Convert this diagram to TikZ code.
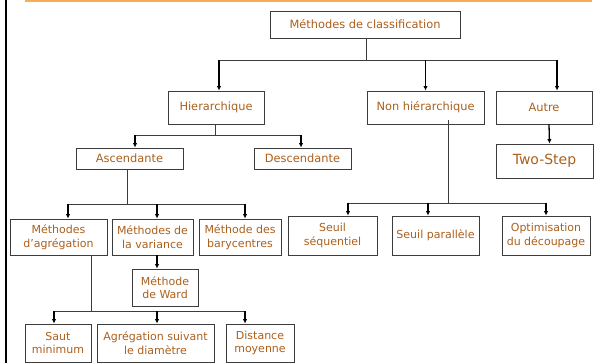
\documentclass[tikz,border=0pt]{standalone}
\usepackage{fontspec}
\setmainfont{DejaVu Sans}
\usetikzlibrary{arrows.meta}
\definecolor{txt}{RGB}{172,96,28}
\definecolor{orangebar}{RGB}{248,172,88}
\definecolor{boxline}{RGB}{60,60,60}
\begin{document}
\begin{tikzpicture}[x=1pt,y=-1pt,
  bx/.style={draw=boxline,line width=0.9pt,fill=white,inner sep=0pt,align=center,
    text=txt,font=\fontsize{11}{13.5}\selectfont},
  big/.style={font=\fontsize{11.4}{13.5}\selectfont},
  arr/.style={line width=1.3pt,-{Latex[length=4.5pt,width=4.5pt]}},
  ln/.style={line width=0.9pt,draw=boxline}]
\useasboundingbox (0,0) rectangle (594,363);
\draw[line width=2pt] (5.5,0) -- (5.5,363);
\draw[orangebar,line width=3pt] (25,1) -- (592,1);

\node[bx,big,minimum width=190pt,minimum height=27pt] (root) at (365,24.5) {Méthodes de classification};
\node[bx,big,minimum width=96pt,minimum height=33pt] (hier) at (216,107.5) {Hierarchique};
\node[bx,big,minimum width=117pt,minimum height=33pt] (nonh) at (425.5,107.5) {Non hiérarchique};
\node[bx,big,minimum width=96pt,minimum height=33pt] (autre) at (544,107.5) {Autre};
\node[bx,minimum width=97pt,minimum height=34pt,font=\fontsize{14}{16}\selectfont] (two) at (544.5,161) {Two-Step};
\node[bx,big,minimum width=107pt,minimum height=21pt] (asc) at (129.5,158.5) {Ascendante};
\node[bx,big,minimum width=97pt,minimum height=21pt] (desc) at (302.5,158.5) {Descendante};
\node[bx,minimum width=97pt,minimum height=36pt] (agr) at (58.5,237) {Méthodes\\d’agrégation};
\node[bx,minimum width=81pt,minimum height=36pt] (var) at (152.5,237) {Méthodes de\\la variance};
\node[bx,minimum width=82pt,minimum height=36pt] (bary) at (240,237) {Méthode des\\barycentres};
\node[bx,minimum width=66pt,minimum height=37pt] (ward) at (165,287.5) {Méthode\\de Ward};
\node[bx,minimum width=66pt,minimum height=38pt] (saut) at (58,343) {Saut\\minimum};
\node[bx,minimum width=117pt,minimum height=38pt] (diam) at (155.5,343) {Agrégation suivant\\le diamètre};
\node[bx,minimum width=68pt,minimum height=38pt] (dist) at (260,343) {Distance\\moyenne};
\node[bx,minimum width=89pt,minimum height=39pt] (seq) at (332.5,235.5) {Seuil\\séquentiel};
\node[bx,minimum width=87pt,minimum height=39pt] (par) at (435.5,235.5) {Seuil parallèle};
\node[bx,minimum width=88pt,minimum height=39pt] (opt) at (546,235.5) {Optimisation\\du découpage};

% bus coordinates
\coordinate (b1) at (0,60);
\coordinate (b2) at (0,135);
\coordinate (b3) at (0,204);
\coordinate (b4) at (0,311);
\coordinate (b5) at (0,203);

% root
\draw[ln] ([xshift=1pt]root.south) -- ([xshift=1pt]root.south |- b1);
\draw[ln] ([xshift=3pt]hier.north |- b1) -- ([xshift=13pt]autre.north |- b1);
\draw[arr] ([xshift=3pt]hier.north |- b1) -- ([xshift=3pt]hier.north);
\draw[arr] (nonh.north |- b1) -- (nonh.north);
\draw[arr] ([xshift=13pt]autre.north |- b1) -- ([xshift=13pt]autre.north);
% autre
\draw[arr] ([xshift=5pt]autre.south) -- ([xshift=5pt]two.north);
% hier
\draw[ln] ([xshift=-1pt]hier.south) -- ([xshift=-1pt]hier.south |- b2);
\draw[ln] ([xshift=5.5pt]asc.north |- b2) -- ([xshift=-1.5pt]desc.north |- b2);
\draw[arr] ([xshift=5.5pt]asc.north |- b2) -- ([xshift=5.5pt]asc.north);
\draw[arr] ([xshift=-1.5pt]desc.north |- b2) -- ([xshift=-1.5pt]desc.north);
% asc
\draw[ln] ([xshift=-2.5pt]asc.south) -- ([xshift=-2.5pt]asc.south |- b3);
\draw[ln] ([xshift=9.5pt]agr.north |- b3) -- ([xshift=5pt]bary.north |- b3);
\draw[arr] ([xshift=9.5pt]agr.north |- b3) -- ([xshift=9.5pt]agr.north);
\draw[arr] ([xshift=4.5pt]var.north |- b3) -- ([xshift=4.5pt]var.north);
\draw[arr] ([xshift=5pt]bary.north |- b3) -- ([xshift=5pt]bary.north);
% var
\draw[arr] ([xshift=4.5pt]var.south) -- ([xshift=4.5pt]var.south |- ward.north);
% agr
\draw[ln] ([xshift=32.5pt]agr.south) -- ([xshift=32.5pt]agr.south |- b4);
\draw[ln] ([xshift=-4pt]saut.north |- b4) -- ([xshift=-15pt]dist.north |- b4);
\draw[arr] ([xshift=-4pt]saut.north |- b4) -- ([xshift=-4pt]saut.north);
\draw[arr] ([xshift=1.5pt]diam.north |- b4) -- ([xshift=1.5pt]diam.north);
\draw[arr] ([xshift=-15pt]dist.north |- b4) -- ([xshift=-15pt]dist.north);
% nonh
\coordinate (nh) at ([xshift=22.5pt,yshift=4pt]nonh.south);
\draw[ln] (nh) -- (nh |- b5);
\draw[ln] ([xshift=15.5pt]seq.north |- b5) -- (opt.north |- b5);
\draw[arr] ([xshift=15.5pt]seq.north |- b5) -- ([xshift=15.5pt]seq.north);
\draw[arr] ([xshift=-7.5pt]par.north |- b5) -- ([xshift=-7.5pt]par.north);
\draw[arr] (opt.north |- b5) -- (opt.north);
\end{tikzpicture}
\end{document}
